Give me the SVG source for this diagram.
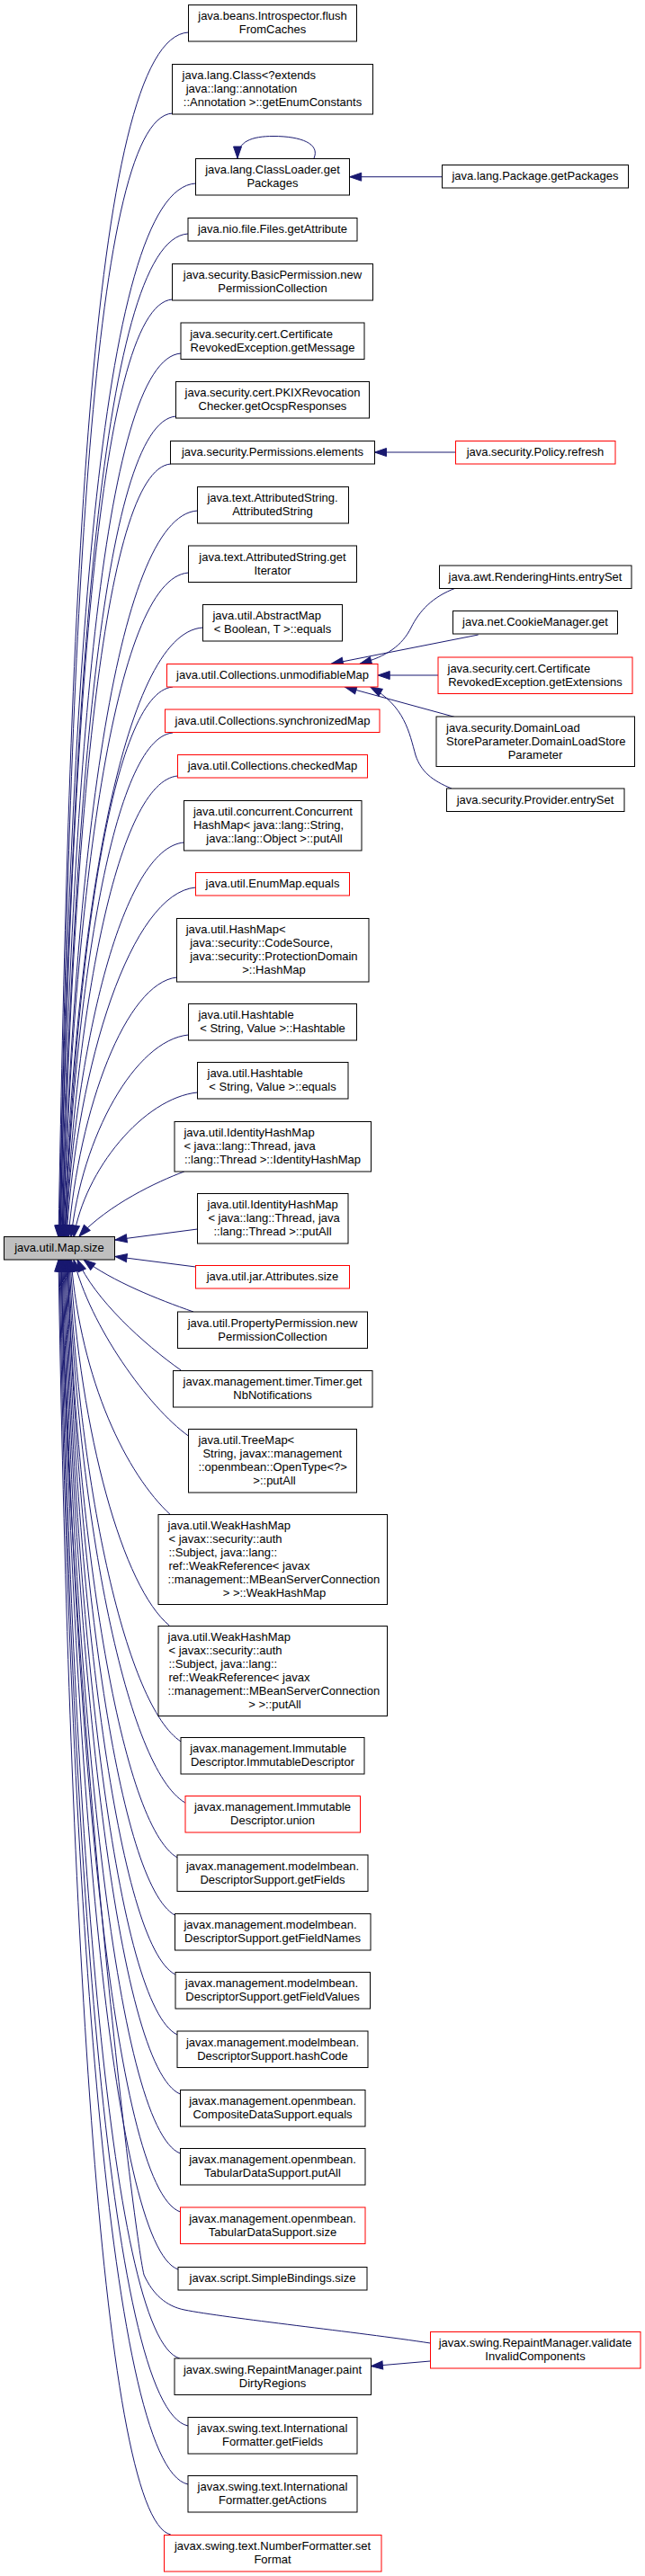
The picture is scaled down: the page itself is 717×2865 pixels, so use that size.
<svg xmlns="http://www.w3.org/2000/svg" width="717" height="2865" viewBox="0 0 717 2865">
<style>
.n rect{fill:#ffffff;stroke:#000000;stroke-width:1}
.r rect{fill:#ffffff;stroke:#ff0000;stroke-width:1}
.m rect{fill:#bfbfbf;stroke:#000000;stroke-width:1}
text{font-family:"Liberation Sans",Arial,Helvetica,sans-serif;font-size:13px;fill:#000000}
.c{text-anchor:middle}
.e path{fill:none;stroke:#191970;stroke-width:1;marker-end:url(#ah)}
</style>
<defs>
<marker id="ah" markerWidth="14" markerHeight="11" refX="13" refY="5" orient="auto" markerUnits="userSpaceOnUse" style="overflow:visible">
<path d="M0,0.5 L13,5 L0,9.5 z" fill="#191970" stroke="#191970" stroke-width="1"/>
</marker>
</defs>
<rect x="0" y="0" width="717" height="2865" fill="#ffffff"/>
<g id="edges" class="e">
<path d="M209.4,36 C98,42 77,706 65,1376"/>
<path d="M191.6,126 C98,132 78,751 66,1376"/>
<path d="M217.6,204 C108,210 78,790 66,1376"/>
<path d="M209,260 C109,266 79,818 67,1376"/>
<path d="M191.6,333 C106,339 79,855 67,1376"/>
<path d="M201.2,393 C112,399 80,884 68,1376"/>
<path d="M195.7,463 C113,469 81,920 69,1376"/>
<path d="M189.8,516 C113,522 81,946 69,1376"/>
<path d="M219.5,568 C127,574 82,972 70,1376"/>
<path d="M209.4,637 C126,643 82,1007 70,1376"/>
<path d="M225.4,698 C135,704 83,1037 71,1376"/>
<path d="M192,764 C124,770 84,1070 72,1376"/>
<path d="M192,815 C126,821 84,1096 72,1376"/>
<path d="M197.5,863 C131,869 85,1120 73,1376"/>
<path d="M204.4,937 C137,943 85,1157 73,1376"/>
<path d="M217.6,987 C146,993 86,1182 74,1376"/>
<path d="M196.6,1087 C140,1093 88,1232 76,1376"/>
<path d="M209.4,1151 C150,1157 91,1264 79,1376"/>
<path d="M219.5,1215 C160,1221 94,1301 82,1376"/>
<path d="M204.8,1303 C175,1314 120,1340 88,1375"/>
<path d="M219.5,1367 L128,1379"/>
<path d="M217.6,1409 L128,1397.5"/>
<path d="M215,1459 C175,1445 125,1425 93,1401"/>
<path d="M201.2,1524 C160,1495 105,1445 86,1401"/>
<path d="M209.4,1597 C165,1565 100,1475 82,1401"/>
<path d="M189.8,1685 C141,1640 90,1537 79,1401"/>
<path d="M188.4,1808 C137,1766 89,1596 78,1401"/>
<path d="M201.2,1937 C141,1898 88,1658 77,1401"/>
<path d="M205.8,2005 C141,1967 87,1691 76,1401"/>
<path d="M197.1,2066 C135,2030 86,1720 75,1401"/>
<path d="M194.3,2130 C132,2095 86,1751 75,1401"/>
<path d="M194.8,2196 C131,2163 85,1783 74,1401"/>
<path d="M197.1,2263 C130,2231 84,1815 73,1401"/>
<path d="M200.3,2329 C130,2299 83,1846 72,1401"/>
<path d="M200.3,2395 C128,2366 82,1878 71,1401"/>
<path d="M200.3,2460 C125,2433 81,1909 70,1401"/>
<path d="M198,2524 C123,2498 80,1940 69,1401"/>
<path d="M478.3,2606 C400,2594 250,2578 205,2569 C185,2565 170,2552 160,2530 C148,2480 79,1900 68,1401"/>
<path d="M199.8,2623 C120,2600 79,1988 68,1401"/>
<path d="M209,2698 C119,2679 78,2024 67,1401"/>
<path d="M209,2763 C118,2744 77,2055 66,1401"/>
<path d="M189.8,2819 C110,2800 76,2082 65,1401"/>
<path d="M349,176 C356,160 335,151.5 304,151.5 C280,151.5 264,157 264,176"/>
<path d="M491.5,196.7 L388.7,196.7"/>
<path d="M506.6,503 L416.5,503"/>
<path d="M506.7,654 C480,664 466,680 457,698 C447,718 430,730 400,738.3"/>
<path d="M531.7,706 L368.3,738.3"/>
<path d="M487,751 L420.2,751"/>
<path d="M505,797.3 L383.3,764"/>
<path d="M502,877 C480,868 468,858 462,840 C455,815 450,785 411.7,764"/>
<path d="M478.3,2626 L412.4,2631.7"/>
</g>
<g id="n1" class="n"><rect x="209.5" y="5.5" width="187" height="40.5"/><text class="c" x="303" y="22">java.beans.Introspector.flush</text><text class="c" x="303" y="37">FromCaches</text></g>
<g id="n2" class="n"><rect x="191.5" y="71.5" width="223" height="55.5"/><text x="202.6" y="88">java.lang.Class&lt;?extends</text><text x="206.7" y="103">java::lang::annotation</text><text class="c" x="303" y="118">::Annotation &gt;::getEnumConstants</text></g>
<g id="n3" class="n"><rect x="217.5" y="176.5" width="171" height="40.5"/><text class="c" x="303" y="193">java.lang.ClassLoader.get</text><text class="c" x="303" y="208">Packages</text></g>
<g id="n4" class="n"><rect x="491.5" y="183.5" width="207" height="25.5"/><text class="c" x="595" y="200">java.lang.Package.getPackages</text></g>
<g id="n5" class="n"><rect x="209" y="242.5" width="188" height="25.5"/><text class="c" x="303" y="259">java.nio.file.Files.getAttribute</text></g>
<g id="n6" class="n"><rect x="191.5" y="293.5" width="223" height="40.5"/><text class="c" x="303" y="310">java.security.BasicPermission.new</text><text class="c" x="303" y="325">PermissionCollection</text></g>
<g id="n7" class="n"><rect x="201" y="359" width="204" height="40.5"/><text x="211.2" y="375.5">java.security.cert.Certificate</text><text class="c" x="303" y="390.5">RevokedException.getMessage</text></g>
<g id="n8" class="n"><rect x="195.5" y="424.5" width="215" height="40.5"/><text class="c" x="303" y="441">java.security.cert.PKIXRevocation</text><text class="c" x="303" y="456">Checker.getOcspResponses</text></g>
<g id="n9" class="n"><rect x="189.5" y="490.5" width="227" height="25.5"/><text class="c" x="303" y="507">java.security.Permissions.elements</text></g>
<g id="n10" class="r"><rect x="506.5" y="490.5" width="177.5" height="25.5"/><text class="c" x="595" y="507">java.security.Policy.refresh</text></g>
<g id="n11" class="n"><rect x="219.5" y="541.5" width="168" height="40.5"/><text class="c" x="303" y="558">java.text.AttributedString.</text><text class="c" x="303" y="573">AttributedString</text></g>
<g id="n12" class="n"><rect x="209.5" y="607" width="187" height="40.5"/><text class="c" x="303" y="623.5">java.text.AttributedString.get</text><text class="c" x="303" y="638.5">Iterator</text></g>
<g id="n13" class="n"><rect x="225.5" y="672.5" width="155" height="40.5"/><text x="236.4" y="689">java.util.AbstractMap</text><text class="c" x="303" y="704">&lt; Boolean, T &gt;::equals</text></g>
<g id="n14" class="r"><rect x="185.5" y="738.5" width="234.5" height="25.5"/><text class="c" x="303" y="755">java.util.Collections.unmodifiableMap</text></g>
<g id="n15" class="r"><rect x="183.5" y="789" width="238.5" height="25.5"/><text class="c" x="303" y="805.5">java.util.Collections.synchronizedMap</text></g>
<g id="n16" class="r"><rect x="197.5" y="839.5" width="211" height="25.5"/><text class="c" x="303" y="856">java.util.Collections.checkedMap</text></g>
<g id="n17" class="n"><rect x="488.5" y="629" width="213.5" height="25.5"/><text class="c" x="595" y="645.5">java.awt.RenderingHints.entrySet</text></g>
<g id="n18" class="n"><rect x="503.5" y="679.5" width="183" height="25.5"/><text class="c" x="595" y="696">java.net.CookieManager.get</text></g>
<g id="n19" class="r"><rect x="487" y="731" width="216" height="40.5"/><text x="497.5" y="747.5">java.security.cert.Certificate</text><text class="c" x="595" y="762.5">RevokedException.getExtensions</text></g>
<g id="n20" class="n"><rect x="485" y="797" width="220.5" height="55.5"/><text x="496.1" y="813.5">java.security.DomainLoad</text><text x="496.1" y="828.5">StoreParameter.DomainLoadStore</text><text class="c" x="595" y="843.5">Parameter</text></g>
<g id="n21" class="n"><rect x="496.5" y="877" width="197.5" height="25.5"/><text class="c" x="595" y="893.5">java.security.Provider.entrySet</text></g>
<g id="n22" class="n"><rect x="204.5" y="890.5" width="197.5" height="55.5"/><text x="214.9" y="907">java.util.concurrent.Concurrent</text><text x="214.9" y="922">HashMap&lt; java::lang::String,</text><text class="c" x="305" y="937">java::lang::Object &gt;::putAll</text></g>
<g id="n23" class="r"><rect x="217.5" y="970.5" width="171" height="25.5"/><text class="c" x="303" y="987">java.util.EnumMap.equals</text></g>
<g id="n24" class="n"><rect x="196.5" y="1021.5" width="213.5" height="70.5"/><text x="206.7" y="1038">java.util.HashMap&lt;</text><text x="211.2" y="1053">java::security::CodeSource,</text><text x="211.2" y="1068">java::security::ProtectionDomain</text><text class="c" x="304.5" y="1083">&gt;::HashMap</text></g>
<g id="n25" class="n"><rect x="209.5" y="1116.5" width="187" height="40.5"/><text x="220.4" y="1133">java.util.Hashtable</text><text class="c" x="303" y="1148">&lt; String, Value &gt;::Hashtable</text></g>
<g id="n26" class="n"><rect x="219.5" y="1181.5" width="167.5" height="40.5"/><text x="230.5" y="1198">java.util.Hashtable</text><text class="c" x="303" y="1213">&lt; String, Value &gt;::equals</text></g>
<g id="n27" class="n"><rect x="194" y="1247.5" width="218.5" height="55.5"/><text x="204.4" y="1264">java.util.IdentityHashMap</text><text x="204.4" y="1279">&lt; java::lang::Thread, java</text><text class="c" x="303" y="1294">::lang::Thread &gt;::IdentityHashMap</text></g>
<g id="n28" class="n"><rect x="219.5" y="1327.5" width="167.5" height="55.5"/><text x="230.5" y="1344">java.util.IdentityHashMap</text><text x="231.4" y="1359">&lt; java::lang::Thread, java</text><text class="c" x="303" y="1374">::lang::Thread &gt;::putAll</text></g>
<g id="n29" class="m"><rect x="4.5" y="1375.5" width="123" height="25.5"/><text class="c" x="66" y="1392">java.util.Map.size</text></g>
<g id="n30" class="r"><rect x="217.5" y="1407.5" width="171" height="25.5"/><text class="c" x="303" y="1424">java.util.jar.Attributes.size</text></g>
<g id="n31" class="n"><rect x="197.5" y="1459" width="211" height="40.5"/><text class="c" x="303" y="1475.5">java.util.PropertyPermission.new</text><text class="c" x="303" y="1490.5">PermissionCollection</text></g>
<g id="n32" class="n"><rect x="192.5" y="1524.5" width="221.5" height="40.5"/><text class="c" x="303" y="1541">javax.management.timer.Timer.get</text><text class="c" x="303" y="1556">NbNotifications</text></g>
<g id="n33" class="n"><rect x="209.5" y="1589.5" width="187" height="70.5"/><text x="220.4" y="1606">java.util.TreeMap&lt;</text><text x="225.4" y="1621">String, javax::management</text><text x="220.4" y="1636">::openmbean::OpenType&lt;?&gt;</text><text class="c" x="305" y="1651">&gt;::putAll</text></g>
<g id="n34" class="n"><rect x="176" y="1684.5" width="254.5" height="100"/><text x="186.6" y="1701">java.util.WeakHashMap</text><text x="187.5" y="1716">&lt; javax::security::auth</text><text x="187.5" y="1731">::Subject, java::lang::</text><text x="187.5" y="1746">ref::WeakReference&lt; javax</text><text x="186.6" y="1761">::management::MBeanServerConnection</text><text class="c" x="305" y="1776">&gt; &gt;::WeakHashMap</text></g>
<g id="n35" class="n"><rect x="176" y="1808.5" width="254.5" height="100"/><text x="186.6" y="1825">java.util.WeakHashMap</text><text x="187.5" y="1840">&lt; javax::security::auth</text><text x="187.5" y="1855">::Subject, java::lang::</text><text x="187.5" y="1870">ref::WeakReference&lt; javax</text><text x="186.6" y="1885">::management::MBeanServerConnection</text><text class="c" x="305.5" y="1900">&gt; &gt;::putAll</text></g>
<g id="n36" class="n"><rect x="201" y="1932.5" width="204" height="40.5"/><text x="211.2" y="1949">javax.management.Immutable</text><text class="c" x="303" y="1964">Descriptor.ImmutableDescriptor</text></g>
<g id="n37" class="r"><rect x="206" y="1997.5" width="194.5" height="40.5"/><text class="c" x="303" y="2014">javax.management.Immutable</text><text class="c" x="303" y="2029">Descriptor.union</text></g>
<g id="n38" class="n"><rect x="197" y="2063" width="212" height="40.5"/><text class="c" x="303" y="2079.5">javax.management.modelmbean.</text><text class="c" x="303" y="2094.5">DescriptorSupport.getFields</text></g>
<g id="n39" class="n"><rect x="194.5" y="2128.5" width="217.5" height="40.5"/><text x="204.4" y="2145">javax.management.modelmbean.</text><text class="c" x="303" y="2160">DescriptorSupport.getFieldNames</text></g>
<g id="n40" class="n"><rect x="195" y="2193.5" width="216.5" height="40.5"/><text x="205.8" y="2210">javax.management.modelmbean.</text><text class="c" x="303" y="2225">DescriptorSupport.getFieldValues</text></g>
<g id="n41" class="n"><rect x="197" y="2259" width="212" height="40.5"/><text class="c" x="303" y="2275.5">javax.management.modelmbean.</text><text class="c" x="303" y="2290.5">DescriptorSupport.hashCode</text></g>
<g id="n42" class="n"><rect x="200.5" y="2324.5" width="205.5" height="40.5"/><text class="c" x="303" y="2341">javax.management.openmbean.</text><text class="c" x="303" y="2356">CompositeDataSupport.equals</text></g>
<g id="n43" class="n"><rect x="200.5" y="2389.5" width="205.5" height="40.5"/><text class="c" x="303" y="2406">javax.management.openmbean.</text><text class="c" x="303" y="2421">TabularDataSupport.putAll</text></g>
<g id="n44" class="r"><rect x="200.5" y="2455" width="205.5" height="40.5"/><text class="c" x="303" y="2471.5">javax.management.openmbean.</text><text class="c" x="303" y="2486.5">TabularDataSupport.size</text></g>
<g id="n45" class="n"><rect x="198" y="2521.5" width="210" height="25.5"/><text class="c" x="303" y="2538">javax.script.SimpleBindings.size</text></g>
<g id="n46" class="r"><rect x="478.5" y="2593.5" width="233.5" height="40.5"/><text class="c" x="595" y="2610">javax.swing.RepaintManager.validate</text><text class="c" x="595" y="2625">InvalidComponents</text></g>
<g id="n47" class="n"><rect x="194" y="2623" width="218.5" height="40.5"/><text class="c" x="303" y="2639.5">javax.swing.RepaintManager.paint</text><text class="c" x="303" y="2654.5">DirtyRegions</text></g>
<g id="n48" class="n"><rect x="209" y="2688.5" width="188" height="40.5"/><text class="c" x="303" y="2705">javax.swing.text.International</text><text class="c" x="303" y="2720">Formatter.getFields</text></g>
<g id="n49" class="n"><rect x="209" y="2753.5" width="188" height="40.5"/><text class="c" x="303" y="2770">javax.swing.text.International</text><text class="c" x="303" y="2785">Formatter.getActions</text></g>
<g id="n50" class="r"><rect x="182.5" y="2819.5" width="241.5" height="40.5"/><text class="c" x="303" y="2836">javax.swing.text.NumberFormatter.set</text><text class="c" x="303" y="2851">Format</text></g>
</svg>
